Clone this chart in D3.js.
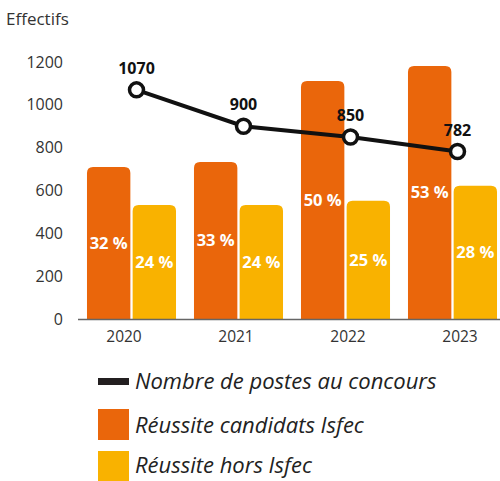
<!DOCTYPE html>
<html>
<head>
<meta charset="utf-8">
<script src="https://cdn.jsdelivr.net/npm/d3@7"></script>
<style>
  body { margin: 0; background: #fff; }
  svg { font-family: "Open Sans", "Noto Sans", sans-serif; }
</style>
</head>
<body>
<div id="chart"></div>
<script>
// data
var years = ["2020", "2021", "2022", "2023"];
var reussiteIsfec = [710, 733, 1111, 1181];
var reussiteHors = [532, 532, 552, 622];
var pctIsfec = ["32 %", "33 %", "50 %", "53 %"];
var pctHors = ["24 %", "24 %", "25 %", "28 %"];
var postes = [1070, 900, 850, 782];
var yTicks = [0, 200, 400, 600, 800, 1000, 1200];
var seriesNames = ["Nombre de postes au concours", "Réussite candidats Isfec", "Réussite hors Isfec"];

var orange = "#ea660b", yellow = "#f9b200";

var svg = d3.select("#chart").append("svg")
    .attr("width", 500)
    .attr("height", 481);

var x = d3.scaleBand().domain(years).range([78, 506]).paddingInner(0.168).paddingOuter(0.084);
var sub = d3.scaleBand().domain([0, 1]).range([0, x.bandwidth()]).paddingInner(0.05);
var y = d3.scaleLinear().domain([0, 1200]).range([319, 62]);
// year labels sit a bit wider apart than the groups
var xLab = d3.scalePoint().domain(years).range([124, 460]);

svg.append("text")
    .attr("x", 6).attr("y", 25)
    .attr("font-size", 17).attr("fill", "#333")
    .text("Effectifs");

// y labels
svg.selectAll(".ylab")
    .data(yTicks)
    .enter().append("text")
    .attr("class", "ylab")
    .attr("x", 63)
    .attr("y", function(d){ return y(d); })
    .attr("dy", "0.35em")
    .attr("text-anchor", "end")
    .attr("font-size", 16)
    .attr("fill", "#333")
    .text(function(d){ return d; });

function topRounded(x0, y0, w, h, r){
    r = Math.min(r, h);
    return "M" + x0 + "," + (y0 + h) +
        "V" + (y0 + r) +
        "Q" + x0 + "," + y0 + " " + (x0 + r) + "," + y0 +
        "H" + (x0 + w - r) +
        "Q" + (x0 + w) + "," + y0 + " " + (x0 + w) + "," + (y0 + r) +
        "V" + (y0 + h) + "Z";
}

var bars = [];
years.forEach(function(yr, i){
    bars.push({year: yr, s: 0, v: reussiteIsfec[i], label: pctIsfec[i], color: orange});
    bars.push({year: yr, s: 1, v: reussiteHors[i], label: pctHors[i], color: yellow});
});

svg.selectAll(".bar")
    .data(bars)
    .enter().append("path")
    .attr("class", "bar")
    .attr("fill", function(d){ return d.color; })
    .attr("d", function(d){
        return topRounded(x(d.year) + sub(d.s), y(d.v), sub.bandwidth(), y(0) - y(d.v), 6);
    });

svg.selectAll(".pct")
    .data(bars)
    .enter().append("text")
    .attr("class", "pct")
    .attr("x", function(d){ return x(d.year) + sub(d.s) + sub.bandwidth() / 2; })
    .attr("y", function(d){ return (y(d.v) + y(0)) / 2; })
    .attr("dy", "0.35em")
    .attr("text-anchor", "middle")
    .attr("font-size", 16.5)
    .attr("font-weight", "bold")
    .attr("fill", "#fff")
    .text(function(d){ return d.label; });

// baseline
svg.append("line")
    .attr("x1", 78).attr("x2", 500)
    .attr("y1", y(0) + 0.5).attr("y2", y(0) + 0.5)
    .attr("stroke", "#666").attr("stroke-width", 1.5);

svg.selectAll(".xlab")
    .data(years)
    .enter().append("text")
    .attr("class", "xlab")
    .attr("x", function(d){ return xLab(d); })
    .attr("y", 342)
    .attr("text-anchor", "middle")
    .attr("font-size", 15.5)
    .attr("fill", "#333")
    .text(function(d){ return d; });

// line
var px = function(d, i){ return x(years[i]) + x.bandwidth() / 2 + 5; };
var line = d3.line().x(px).y(function(d){ return y(d); });

svg.append("path")
    .datum(postes)
    .attr("d", line)
    .attr("fill", "none")
    .attr("stroke", "#111")
    .attr("stroke-width", 4);

svg.selectAll(".pt")
    .data(postes)
    .enter().append("circle")
    .attr("class", "pt")
    .attr("cx", px)
    .attr("cy", function(d){ return y(d); })
    .attr("r", 7)
    .attr("fill", "#fff")
    .attr("stroke", "#111")
    .attr("stroke-width", 3.5);

svg.selectAll(".ptlab")
    .data(postes)
    .enter().append("text")
    .attr("class", "ptlab")
    .attr("x", px)
    .attr("y", function(d){ return y(d) - 16; })
    .attr("text-anchor", "middle")
    .attr("font-size", 16)
    .attr("font-weight", "bold")
    .attr("fill", "#111")
    .text(function(d){ return d; });

// legend
var leg = svg.append("g").attr("font-style", "italic").attr("font-size", 22).attr("fill", "#222");
leg.append("rect").attr("x", 98).attr("y", 378).attr("width", 31).attr("height", 7).attr("fill", "#231f20");
leg.append("rect").attr("x", 98).attr("y", 409).attr("width", 31).attr("height", 31).attr("fill", orange);
leg.append("rect").attr("x", 98).attr("y", 451).attr("width", 31).attr("height", 31).attr("fill", yellow);
leg.selectAll("text")
    .data(seriesNames)
    .enter().append("text")
    .attr("x", 135)
    .attr("y", function(d, i){ return [389, 433, 473][i]; })
    .text(function(d){ return d; });
</script>
</body>
</html>
